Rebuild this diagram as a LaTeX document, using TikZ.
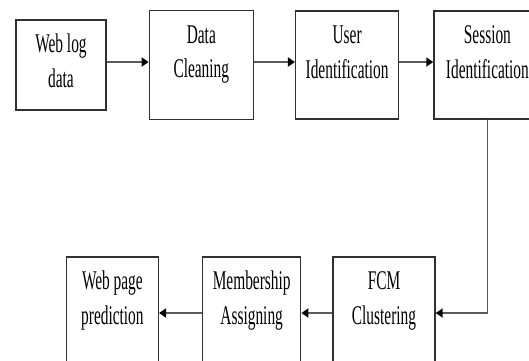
\documentclass[tikz,border=0pt]{standalone}
\usepackage{fontspec}
\setmainfont{Liberation Serif}[FakeStretch=0.57]
\usetikzlibrary{arrows.meta,positioning}
\definecolor{BoxLine}{HTML}{303030}
\definecolor{ArrowGray}{HTML}{5a5a5a}

\begin{document}
\begin{tikzpicture}[x=1pt,y=-1pt,
        stagebox/.style={draw=BoxLine,line width=1.3pt,fill=white,
                     font=\fontsize{27}{34.5}\selectfont,align=center,
                     inner xsep=2pt,inner ysep=14pt,
                     text height=53pt,text depth=#1},
        stagebox/.default=27pt,
        flowarrow/.style={ArrowGray,line width=2pt,
                     -{Triangle[length=7pt,width=9pt,color=black]}}]
  \useasboundingbox (0,0) rectangle (529,360);
  % top row
  \node[stagebox=9pt,minimum width=90pt] (weblog) at (61,65) {Web log\\data};
  \node[stagebox=28pt,minimum width=104pt,right=42pt of weblog] (clean)
        {Data\\Cleaning};
  \node[stagebox,minimum width=103pt,right=41pt of clean] (user)
        {User\\Identification};
  \node[stagebox,minimum width=107pt,right=34pt of user] (sess)
        {Session\\Identification};
  % bottom row
  \node[stagebox=37pt,minimum width=102pt] (fcm) at (384,316)
        {FCM\\Clustering};
  \node[stagebox=37pt,minimum width=98pt,left=31pt of fcm] (memb)
        {Membership\\Assigning};
  \node[stagebox=37pt,minimum width=92pt,left=43pt of memb] (pred)
        {Web page\\prediction};
  \foreach \a/\b in {weblog/clean,clean/user,user/sess}{
    \draw[flowarrow] ([yshift=3pt]\a.east) -- ([yshift=3pt]\b.west);
  }
  \foreach \a/\b in {fcm/memb,memb/pred}{
    \draw[flowarrow] ([yshift=3pt]\a.west) -- ([yshift=3pt]\b.east);
  }
  \draw[flowarrow,line width=1.5pt] (sess.south) |- ([yshift=3pt]fcm.east);
\end{tikzpicture}
\end{document}
